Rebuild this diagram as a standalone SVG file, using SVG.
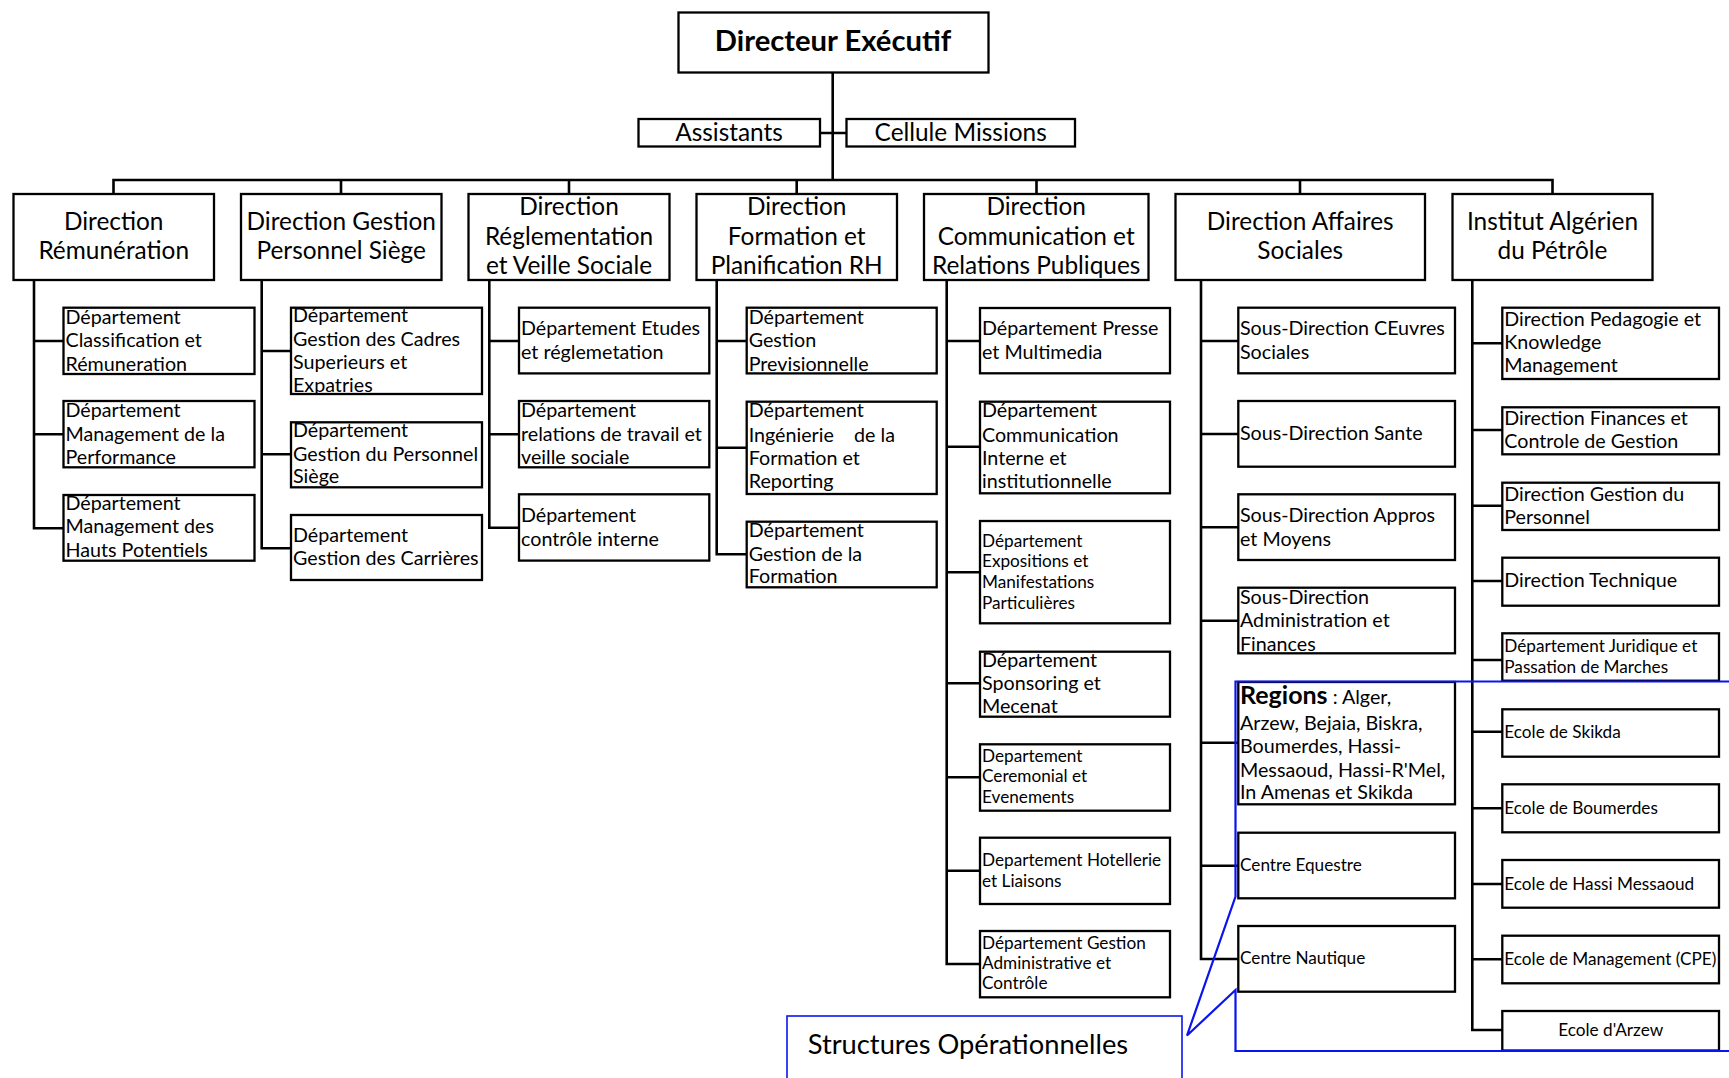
<svg xmlns="http://www.w3.org/2000/svg" width="1729" height="1078" viewBox="0 0 1729 1078">
  <style>
    .box { fill: #fff; stroke: #000; stroke-width: 2.3; }
    .ln { fill: none; stroke: #000; stroke-width: 2.6; stroke-linejoin: miter; }
    .blue { fill: none; stroke: #0a14f0; stroke-width: 2.2; }
    text { font-family: Lato, "Liberation Sans", sans-serif; fill: #000; white-space: pre; }
    .ttl { font-size: 29.2px; font-weight: bold; text-anchor: middle; }
    .hd { font-size: 24.4px; text-anchor: middle; }
    .d { font-size: 19.7px; }
    .s { font-size: 17.2px; }
    .big { font-size: 27.3px; }
  </style>

  <!-- connectors -->
  <g id="connectors">
    <path class="ln" d="M832.7,72 V180 M820,133 H846.5"/>
    <path class="ln" d="M113.5,194 V180 H1552.5 V194 M341,180 V194 M569,180 V194 M796.7,180 V194 M1036.5,180 V194 M1300,180 V194"/>
    <path class="ln" d="M34,280 V528.3 H63.5 M34,341 H63.5 M34,434.3 H63.5"/>
    <path class="ln" d="M261.7,280 V548.3 H291 M261.7,351 H291 M261.7,454.3 H291"/>
    <path class="ln" d="M489.3,280 V527.7 H519 M489.3,341 H519 M489.3,434.3 H519"/>
    <path class="ln" d="M716.7,280 V554.3 H746.7 M716.7,341 H746.7 M716.7,447.7 H746.7"/>
    <path class="ln" d="M946.7,280 V964 H980 M946.7,341 H980 M946.7,446.7 H980 M946.7,572.3 H980 M946.7,683.3 H980 M946.7,777.3 H980 M946.7,870.7 H980"/>
    <path class="ln" d="M1201,280 V959 H1238.3 M1201,341 H1238.3 M1201,434 H1238.3 M1201,527.3 H1238.3 M1201,620.7 H1238.3 M1201,742.7 H1238.3 M1201,865.7 H1238.3"/>
    <path class="ln" d="M1472.3,280 V1030 H1502.3 M1472.3,343.3 H1502.3 M1472.3,430 H1502.3 M1472.3,505.7 H1502.3 M1472.3,581 H1502.3 M1472.3,660 H1502.3 M1472.3,731.7 H1502.3 M1472.3,808.3 H1502.3 M1472.3,884 H1502.3 M1472.3,959.3 H1502.3"/>
  </g>

  <!-- top level -->
  <g id="directeur">
    <rect class="box" x="678.5" y="12.5" width="310" height="60"/>
    <text class="ttl" x="833" y="51">Directeur Exécutif</text>
  </g>
  <g id="assistants">
    <rect class="box" x="638.5" y="119" width="181.5" height="27.5"/>
    <text class="hd" x="729" y="140.5">Assistants</text>
  </g>
  <g id="cellule-missions">
    <rect class="box" x="846.5" y="119" width="228.5" height="27.5"/>
    <text class="hd" x="960.7" y="140.5">Cellule Missions</text>
  </g>

  <!-- directions -->
  <g id="dir-remuneration">
    <rect class="box" x="13.5" y="194" width="200.5" height="86"/>
    <text class="hd" x="113.7" y="230">Direction</text>
    <text class="hd" x="113.7" y="259">Rémunération</text>
  </g>
  <g id="dir-gestion-personnel">
    <rect class="box" x="241" y="194" width="200.5" height="86"/>
    <text class="hd" x="341.2" y="230">Direction Gestion</text>
    <text class="hd" x="341.2" y="259">Personnel Siège</text>
  </g>
  <g id="dir-reglementation">
    <rect class="box" x="468.5" y="194" width="201" height="86"/>
    <text class="hd" x="569" y="215">Direction</text>
    <text class="hd" x="569" y="244.5">Réglementation</text>
    <text class="hd" x="569" y="273.5">et Veille Sociale</text>
  </g>
  <g id="dir-formation">
    <rect class="box" x="696.5" y="194" width="200.5" height="86"/>
    <text class="hd" x="796.7" y="215">Direction</text>
    <text class="hd" x="796.7" y="244.5">Formation et</text>
    <text class="hd" x="796.7" y="273.5">Planification RH</text>
  </g>
  <g id="dir-communication">
    <rect class="box" x="924" y="194" width="224.5" height="86"/>
    <text class="hd" x="1036.2" y="215">Direction</text>
    <text class="hd" x="1036.2" y="244.5">Communication et</text>
    <text class="hd" x="1036.2" y="273.5">Relations Publiques</text>
  </g>
  <g id="dir-affaires-sociales">
    <rect class="box" x="1175.5" y="194" width="249.5" height="86"/>
    <text class="hd" x="1300.2" y="230">Direction Affaires</text>
    <text class="hd" x="1300.2" y="259">Sociales</text>
  </g>
  <g id="institut-algerien">
    <rect class="box" x="1452.5" y="194" width="200" height="86"/>
    <text class="hd" x="1552.5" y="230">Institut Algérien</text>
    <text class="hd" x="1552.5" y="258.5">du Pétrôle</text>
  </g>

  <!-- Direction Rémunération -->
  <g id="dep-classification">
    <rect class="box" x="63.5" y="307.7" width="191" height="66.3"/>
    <text class="d" x="65.5" y="324">Département</text>
    <text class="d" x="65.5" y="347">Classification et</text>
    <text class="d" x="65.5" y="370.5">Rémuneration</text>
  </g>
  <g id="dep-performance">
    <rect class="box" x="63.5" y="401" width="191" height="66.3"/>
    <text class="d" x="65.5" y="417.3">Département</text>
    <text class="d" x="65.5" y="440.7">Management de la</text>
    <text class="d" x="65.5" y="464">Performance</text>
  </g>
  <g id="dep-hauts-potentiels">
    <rect class="box" x="63.5" y="495" width="191" height="65.7"/>
    <text class="d" x="65.5" y="510">Département</text>
    <text class="d" x="65.5" y="533.3">Management des</text>
    <text class="d" x="65.5" y="556.7">Hauts Potentiels</text>
  </g>

  <!-- Direction Gestion Personnel Siège -->
  <g id="dep-cadres">
    <rect class="box" x="291" y="307.7" width="191" height="86.3"/>
    <text class="d" x="293" y="321.7">Département</text>
    <text class="d" x="293" y="345.5">Gestion des Cadres</text>
    <text class="d" x="293" y="369">Superieurs et</text>
    <text class="d" x="293" y="391.7">Expatries</text>
  </g>
  <g id="dep-personnel-siege">
    <rect class="box" x="291" y="422.3" width="191" height="65"/>
    <text class="d" x="293" y="436.7">Département</text>
    <text class="d" x="293" y="460.7">Gestion du Personnel</text>
    <text class="d" x="293" y="483.3">Siège</text>
  </g>
  <g id="dep-carrieres">
    <rect class="box" x="291" y="515" width="191" height="65"/>
    <text class="d" x="293" y="541.7">Département</text>
    <text class="d" x="293" y="565">Gestion des Carrières</text>
  </g>

  <!-- Direction Réglementation -->
  <g id="dep-etudes">
    <rect class="box" x="519" y="307.7" width="190.3" height="65.7"/>
    <text class="d" x="521" y="335">Département Etudes</text>
    <text class="d" x="521" y="358.7">et réglemetation</text>
  </g>
  <g id="dep-relations-travail">
    <rect class="box" x="519" y="401" width="190.3" height="66.3"/>
    <text class="d" x="521" y="417.3">Département</text>
    <text class="d" x="521" y="440.7">relations de travail et</text>
    <text class="d" x="521" y="464">veille sociale</text>
  </g>
  <g id="dep-controle-interne">
    <rect class="box" x="519" y="494.3" width="190.3" height="66.3"/>
    <text class="d" x="521" y="521.7">Département</text>
    <text class="d" x="521" y="545.7">contrôle interne</text>
  </g>

  <!-- Direction Formation -->
  <g id="dep-previsionnelle">
    <rect class="box" x="746.7" y="307.7" width="190" height="65.7"/>
    <text class="d" x="748.7" y="324">Département</text>
    <text class="d" x="748.7" y="347">Gestion</text>
    <text class="d" x="748.7" y="370.5">Previsionnelle</text>
  </g>
  <g id="dep-ingenierie">
    <rect class="box" x="746.7" y="401.7" width="190" height="92.3"/>
    <text class="d" x="748.7" y="417.3">Département</text>
    <text class="d" x="748.7" y="441.5">Ingénierie    de la</text>
    <text class="d" x="748.7" y="465">Formation et</text>
    <text class="d" x="748.7" y="488.3">Reporting</text>
  </g>
  <g id="dep-gestion-formation">
    <rect class="box" x="746.7" y="521.7" width="190" height="65.6"/>
    <text class="d" x="748.7" y="536.7">Département</text>
    <text class="d" x="748.7" y="560.5">Gestion de la</text>
    <text class="d" x="748.7" y="583.3">Formation</text>
  </g>

  <!-- Direction Communication -->
  <g id="dep-presse">
    <rect class="box" x="980" y="308" width="190" height="65.3"/>
    <text class="d" x="982" y="335">Département Presse</text>
    <text class="d" x="982" y="358.5">et Multimedia</text>
  </g>
  <g id="dep-communication-interne">
    <rect class="box" x="980" y="401.7" width="190" height="91.6"/>
    <text class="d" x="982" y="417.3">Département</text>
    <text class="d" x="982" y="441.5">Communication</text>
    <text class="d" x="982" y="465">Interne et</text>
    <text class="d" x="982" y="488.3">institutionnelle</text>
  </g>
  <g id="dep-expositions">
    <rect class="box" x="980" y="521" width="190" height="102.3"/>
    <text class="s" x="982" y="546.7">Département</text>
    <text class="s" x="982" y="567.3">Expositions et</text>
    <text class="s" x="982" y="588.3">Manifestations</text>
    <text class="s" x="982" y="609">Particulières</text>
  </g>
  <g id="dep-sponsoring">
    <rect class="box" x="980" y="651.7" width="190" height="65"/>
    <text class="d" x="982" y="666.7">Département</text>
    <text class="d" x="982" y="690">Sponsoring et</text>
    <text class="d" x="982" y="713.3">Mecenat</text>
  </g>
  <g id="dep-ceremonial">
    <rect class="box" x="980" y="744.3" width="190" height="66.4"/>
    <text class="s" x="982" y="761.7">Departement</text>
    <text class="s" x="982" y="782.3">Ceremonial et</text>
    <text class="s" x="982" y="803.3">Evenements</text>
  </g>
  <g id="dep-hotellerie">
    <rect class="box" x="980" y="837.7" width="190" height="66.3"/>
    <text class="s" x="982" y="866">Departement Hotellerie</text>
    <text class="s" x="982" y="886.7">et Liaisons</text>
  </g>
  <g id="dep-gestion-administrative">
    <rect class="box" x="980" y="931" width="190" height="66.3"/>
    <text class="s" x="982" y="949">Département Gestion</text>
    <text class="s" x="982" y="969.3">Administrative et</text>
    <text class="s" x="982" y="989.3">Contrôle</text>
  </g>

  <!-- Direction Affaires Sociales -->
  <g id="sd-oeuvres">
    <rect class="box" x="1238.3" y="307.7" width="216.7" height="65.6"/>
    <text class="d" x="1240" y="335">Sous-Direction CEuvres</text>
    <text class="d" x="1240" y="358.7">Sociales</text>
  </g>
  <g id="sd-sante">
    <rect class="box" x="1238.3" y="401" width="216.7" height="65.7"/>
    <text class="d" x="1240" y="440">Sous-Direction Sante</text>
  </g>
  <g id="sd-appros">
    <rect class="box" x="1238.3" y="494.3" width="216.7" height="65.7"/>
    <text class="d" x="1240" y="522.3">Sous-Direction Appros</text>
    <text class="d" x="1240" y="545.7">et Moyens</text>
  </g>
  <g id="sd-administration">
    <rect class="box" x="1238.3" y="587.7" width="216.7" height="65.6"/>
    <text class="d" x="1240" y="604">Sous-Direction</text>
    <text class="d" x="1240" y="627.3">Administration et</text>
    <text class="d" x="1240" y="650.7">Finances</text>
  </g>
  <g id="regions">
    <rect class="box" x="1238.3" y="682" width="216.7" height="122.3"/>
    <text class="d" x="1240" y="704.3"><tspan font-weight="bold" font-size="25px">Regions</tspan> : Alger,</text>
    <text class="d" x="1240" y="730">Arzew, Bejaia, Biskra,</text>
    <text class="d" x="1240" y="753">Boumerdes, Hassi-</text>
    <text class="d" x="1240" y="776.5">Messaoud, Hassi-R'Mel,</text>
    <text class="d" x="1240" y="799.3">In Amenas et Skikda</text>
  </g>
  <g id="centre-equestre">
    <rect class="box" x="1238.3" y="832.7" width="216.7" height="65.6"/>
    <text class="s" x="1240" y="870.7">Centre Equestre</text>
  </g>
  <g id="centre-nautique">
    <rect class="box" x="1238.3" y="926" width="216.7" height="65.7"/>
    <text class="s" x="1240" y="964">Centre Nautique</text>
  </g>

  <!-- Institut Algérien du Pétrôle -->
  <g id="dir-pedagogie">
    <rect class="box" x="1502.3" y="307.7" width="216.7" height="71.3"/>
    <text class="d" x="1504.3" y="325.7">Direction Pedagogie et</text>
    <text class="d" x="1504.3" y="349">Knowledge</text>
    <text class="d" x="1504.3" y="371.7">Management</text>
  </g>
  <g id="dir-finances">
    <rect class="box" x="1502.3" y="407.3" width="216.7" height="47"/>
    <text class="d" x="1504.3" y="425">Direction Finances et</text>
    <text class="d" x="1504.3" y="448.3">Controle de Gestion</text>
  </g>
  <g id="dir-gestion-personnel-iap">
    <rect class="box" x="1502.3" y="482.7" width="216.7" height="47.3"/>
    <text class="d" x="1504.3" y="501">Direction Gestion du</text>
    <text class="d" x="1504.3" y="524">Personnel</text>
  </g>
  <g id="dir-technique">
    <rect class="box" x="1502.3" y="557.7" width="216.7" height="48"/>
    <text class="d" x="1504.3" y="587.3">Direction Technique</text>
  </g>
  <g id="dep-juridique">
    <rect class="box" x="1502.3" y="633.3" width="216.7" height="47.4"/>
    <text class="s" x="1504.3" y="651.7">Département Juridique et</text>
    <text class="s" x="1504.3" y="672.7">Passation de Marches</text>
  </g>
  <g id="ecole-skikda">
    <rect class="box" x="1502.3" y="709.3" width="216.7" height="47.4"/>
    <text class="s" x="1504.3" y="738.3">Ecole de Skikda</text>
  </g>
  <g id="ecole-boumerdes">
    <rect class="box" x="1502.3" y="784.3" width="216.7" height="48"/>
    <text class="s" x="1504.3" y="814">Ecole de Boumerdes</text>
  </g>
  <g id="ecole-hassi-messaoud">
    <rect class="box" x="1502.3" y="860" width="216.7" height="47.7"/>
    <text class="s" x="1504.3" y="890">Ecole de Hassi Messaoud</text>
  </g>
  <g id="ecole-management">
    <rect class="box" x="1502.3" y="935.7" width="216.7" height="47.6"/>
    <text class="s" x="1504.3" y="965">Ecole de Management (CPE)</text>
  </g>
  <g id="ecole-arzew">
    <rect class="box" x="1502.3" y="1011" width="216.7" height="39.5"/>
    <text class="s" x="1610.7" y="1035.7" text-anchor="middle">Ecole d'Arzew</text>
  </g>

  <!-- operational structures callout -->
  <g id="structures-operationnelles">
    <path class="blue" d="M1731,681.5 H1235.5 V896.5 L1187,1035.5 L1235.5,990 V1051 H1731"/>
    <rect x="787" y="1016" width="395" height="70" fill="none" stroke="#0a14f0" stroke-width="1.6"/>
    <text class="big" x="807.7" y="1054">Structures Opérationnelles</text>
  </g>
</svg>
